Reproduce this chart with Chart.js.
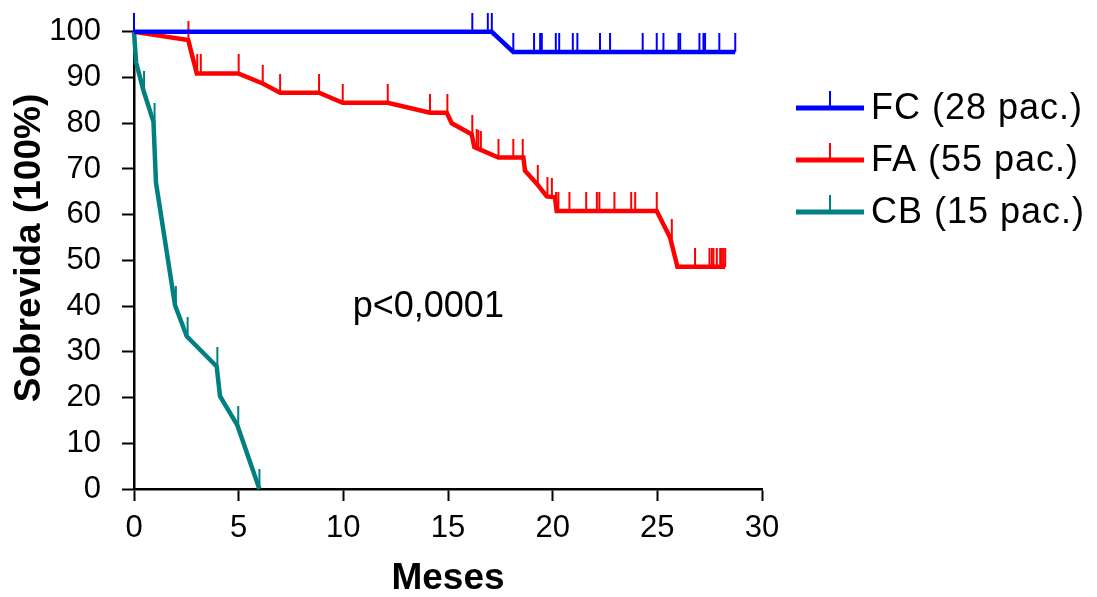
<!DOCTYPE html>
<html>
<head>
<meta charset="utf-8">
<script src="https://cdn.jsdelivr.net/npm/chart.js@4.4.0/dist/chart.umd.min.js"></script>
<style>
  html, body { margin: 0; padding: 0; background: #fff; }
</style>
</head>
<body>
<canvas id="survChart" width="1097" height="597"></canvas>
<script>
const seriesNames = ['FC (28 pac.)', 'FA (55 pac.)', 'CB (15 pac.)'];
const seriesColors = ['#0000ff', '#ff0000', '#008080'];

// curve vertices: months / % survival
const fcTime = [0, 17.09, 18.12, 28.72];
const fcSurv = [100, 100, 95.6, 95.6];

const faTime = [0, 2.59, 3.0, 4.98, 6.15, 6.98, 8.84, 9.97, 12.12, 14.14, 14.94, 15.18, 16.13, 16.26,
  17.41, 18.6, 18.68, 19.24, 19.72, 20.11, 20.19, 24.97, 25.61, 25.96, 28.24];
const faSurv = [100, 98.2, 90.9, 90.9, 88.7, 86.7, 86.7, 84.5, 84.5, 82.3, 82.3, 80.0, 77.6, 74.8,
  72.5, 72.5, 69.6, 66.8, 64.0, 63.8, 60.8, 60.8, 55.0, 48.6, 48.6];

const cbTime = [0, 0.1, 0.45, 0.93, 1.05, 1.96, 2.52, 3.95, 4.11, 4.94, 5.99];
const cbSurv = [100, 93.3, 87.2, 80.3, 67.0, 40.2, 33.4, 26.8, 20.3, 13.9, 0];

// censored patients (tick marks)
const fcCensT = [0, 16.16, 16.90, 17.09, 18.12, 19.11, 19.40, 19.48, 20.15, 20.31, 20.96, 21.18, 22.26,
  22.74, 24.30, 24.97, 25.29, 26.01, 26.09, 27.01, 27.20, 27.28, 27.96, 28.72];
const fcCensS = [100, 100, 100, 100, 95.6, 95.6, 95.6, 95.6, 95.6, 95.6, 95.6, 95.6, 95.6,
  95.6, 95.6, 95.6, 95.6, 95.6, 95.6, 95.6, 95.6, 95.6, 95.6, 95.6];

const faCensT = [2.6, 3.02, 3.19, 5.0, 6.15, 6.98, 8.84, 9.97, 12.12, 14.14, 14.97, 16.16, 16.37, 16.45,
  16.57, 17.41, 18.12, 18.57, 19.29, 19.75, 19.96, 20.16, 20.27, 20.80, 21.60, 22.11, 22.23, 22.95,
  23.75, 23.94, 24.97, 25.69, 26.80, 27.49, 27.60, 27.68, 27.84, 28.00, 28.08, 28.16, 28.24];
const faCensS = [98.2, 90.9, 90.9, 90.9, 88.7, 86.7, 86.7, 84.5, 84.5, 82.3, 82.3, 77.6, 74.6, 74.4,
  74.2, 72.5, 72.5, 72.5, 66.7, 64.0, 63.9, 60.8, 60.8, 60.8, 60.8, 60.8, 60.8, 60.8,
  60.8, 60.8, 60.8, 54.8, 48.6, 48.6, 48.6, 48.6, 48.6, 48.6, 48.6, 48.6, 48.6];

const cbCensT = [0.48, 0.98, 2.0, 2.56, 3.98, 4.98, 5.99];
const cbCensS = [87.2, 80.3, 40.2, 33.4, 26.8, 13.9, 0.3];

const xTicks = [0, 5, 10, 15, 20, 25, 30];
const yTicks = [0, 10, 20, 30, 40, 50, 60, 70, 80, 90, 100];
const yTitle = 'Sobrevida (100%)';
const pText = 'p<0,0001';

const FONT = "'Liberation Sans', Arial, sans-serif";

function pts(xs, ys) {
  return xs.map((x, i) => ({ x: x, y: ys[i] }));
}

// small upward tick used as the censor marker
function censorMark(color, len) {
  const c = document.createElement('canvas');
  c.width = 4;
  c.height = len * 2;
  const g = c.getContext('2d');
  g.strokeStyle = color;
  g.lineWidth = 2;
  g.beginPath();
  g.moveTo(2, 0);
  g.lineTo(2, len);
  g.stroke();
  return c;
}

function curve(i, xs, ys) {
  return {
    label: seriesNames[i], data: pts(xs, ys), showLine: true, borderColor: seriesColors[i],
    borderWidth: 4.5, pointRadius: 0, tension: 0, clip: false, order: i
  };
}
function censors(i, xs, ys) {
  return {
    label: seriesNames[i] + ' cens', data: pts(xs, ys), showLine: false, clip: false,
    pointStyle: censorMark(seriesColors[i], 19), pointRadius: 3, order: i + 0.5
  };
}

const extrasPlugin = {
  id: 'kmExtras',
  afterDraw(chart) {
    const ctx = chart.ctx;
    ctx.save();
    // legend
    seriesNames.forEach((name, i) => {
      const y = 108 + i * 52;
      ctx.strokeStyle = seriesColors[i];
      ctx.lineWidth = 5;
      ctx.beginPath();
      ctx.moveTo(796, y);
      ctx.lineTo(864, y);
      ctx.stroke();
      ctx.lineWidth = 2;
      ctx.beginPath();
      ctx.moveTo(830, y);
      ctx.lineTo(830, y - 17);
      ctx.stroke();
      ctx.fillStyle = '#000';
      ctx.font = '36px ' + FONT;
      ctx.letterSpacing = '1px';
      ctx.textBaseline = 'middle';
      ctx.fillText(name, 871, y + 1);
    });
    ctx.letterSpacing = '0px';
    // y axis title
    ctx.save();
    ctx.translate(30, 248);
    ctx.rotate(-Math.PI / 2);
    ctx.font = 'bold 37px ' + FONT;
    ctx.textAlign = 'center';
    ctx.textBaseline = 'middle';
    ctx.fillText(yTitle, 0, 0);
    ctx.restore();
    // p value
    const xs = chart.scales.x, ys = chart.scales.y;
    ctx.font = '36px ' + FONT;
    ctx.textBaseline = 'alphabetic';
    ctx.fillText(pText, xs.getPixelForValue(10.45), ys.getPixelForValue(37.6));
    ctx.restore();
  }
};

new Chart(document.getElementById('survChart'), {
  type: 'scatter',
  data: {
    datasets: [
      curve(0, fcTime, fcSurv), curve(1, faTime, faSurv), curve(2, cbTime, cbSurv),
      censors(0, fcCensT, fcCensS), censors(1, faCensT, faCensS), censors(2, cbCensT, cbCensS)
    ]
  },
  options: {
    responsive: false,
    animation: false,
    layout: { padding: { top: 28, right: 335, bottom: 0, left: 0 } },
    plugins: { legend: { display: false }, tooltip: { enabled: false } },
    scales: {
      x: {
        type: 'linear', min: 0, max: 30,
        afterBuildTicks: s => { s.ticks = xTicks.map(v => ({ value: v })); },
        afterFit: s => { s.height = 108; },
        grid: { drawOnChartArea: false, drawTicks: true, tickLength: 12, tickWidth: 2, tickColor: '#000' },
        border: { color: '#000', width: 2.5 },
        ticks: { color: '#000', font: { family: FONT, size: 31 }, padding: 9, maxRotation: 0 },
        title: { display: true, text: 'Meses', color: '#000',
          font: { family: FONT, size: 37, weight: 'bold', lineHeight: 1 }, padding: { top: 0, bottom: 0 } }
      },
      y: {
        type: 'linear', min: 0, max: 100,
        afterBuildTicks: s => { s.ticks = yTicks.map(v => ({ value: v })); },
        afterFit: s => { s.width = 134; },
        grid: { drawOnChartArea: false, drawTicks: true, tickLength: 12, tickWidth: 2, tickColor: '#000' },
        border: { color: '#000', width: 2.5 },
        ticks: { color: '#000', font: { family: FONT, size: 31, lineHeight: 0.7 }, padding: 21 },
        title: { display: false }
      }
    }
  },
  plugins: [extrasPlugin]
});
</script>
</body>
</html>
